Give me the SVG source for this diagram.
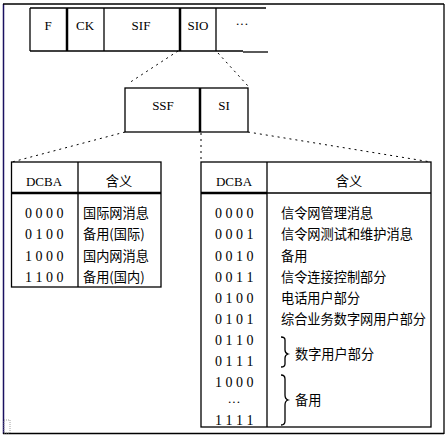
<svg xmlns="http://www.w3.org/2000/svg" width="447" height="437" viewBox="0 0 447 437">
<style>
.ln{stroke:#000;stroke-width:1.3;fill:none}
.thk{stroke:#000;stroke-width:2.5;fill:none}
.dot{stroke:#000;stroke-width:1;fill:none;stroke-dasharray:2 4}
.lat{font-family:"Liberation Serif",serif;font-size:13px;fill:#000}
.num{font-family:"Liberation Serif",serif;font-size:14px;fill:#000}
.cn{font-family:"Noto Sans CJK SC","Noto Sans",sans-serif;font-size:13.2px;fill:#000}
.c{text-anchor:middle}
</style>
<rect width="447" height="437" fill="#fff"/>
<g id="frame">
<line x1="3.5" y1="4" x2="3.5" y2="434" stroke="#1a1060" stroke-width="1.5"/>
<line x1="3" y1="4" x2="444" y2="4" class="ln"/>
<line x1="444" y1="4" x2="444" y2="434" class="ln"/>
<line x1="3" y1="433.5" x2="444" y2="433.5" class="ln"/>
<rect x="4" y="420" width="6" height="13" fill="none" stroke="#888" stroke-width="0.8" stroke-dasharray="1 1"/>
</g>
<g id="frame-top">
<line x1="30" y1="8" x2="266" y2="8" class="ln"/>
<line x1="30" y1="51" x2="243" y2="51" class="ln"/>
<line x1="243" y1="52" x2="268" y2="52" class="ln"/>
<line x1="30" y1="8" x2="30" y2="51" class="ln"/>
<line x1="67" y1="8" x2="67" y2="51" class="thk"/>
<line x1="104" y1="8" x2="104" y2="51" class="ln"/>
<line x1="180" y1="8" x2="180" y2="51" class="thk"/>
<line x1="216" y1="8" x2="216" y2="51" class="ln"/>
<text x="48" y="30" class="lat c">F</text>
<text x="85" y="30" class="lat c">CK</text>
<text x="141" y="30" class="lat c">SIF</text>
<text x="198" y="30" class="lat c">SIO</text>
<text x="242" y="28" class="lat c">···</text>
</g>
<g id="sio-box">
<rect x="125" y="88" width="123" height="44" class="ln"/>
<line x1="200" y1="88" x2="200" y2="132" class="thk"/>
<text x="163" y="110" class="lat c">SSF</text>
<text x="224" y="110" class="lat c">SI</text>
</g>
<g id="connectors">
<line x1="178" y1="51" x2="129" y2="83" class="dot"/>
<line x1="218" y1="53" x2="248" y2="86" class="dot"/>
<line x1="125" y1="132" x2="12" y2="162" class="dot"/>
<line x1="201" y1="133" x2="201" y2="162" class="dot"/>
<line x1="248" y1="132" x2="431" y2="162" class="dot"/>
</g>
<g id="table-ssf">
<rect x="11.5" y="162" width="149.5" height="125" class="ln"/>
<line x1="78" y1="162" x2="78" y2="287" class="ln"/>
<line x1="11.5" y1="193" x2="161" y2="193" class="thk"/>
<text x="44" y="186" class="lat c">DCBA</text>
<text x="119" y="186" class="cn c">含义</text>
<text x="25" y="218" class="num">0 0 0 0</text>
<text x="25" y="239" class="num">0 1 0 0</text>
<text x="25" y="261" class="num">1 0 0 0</text>
<text x="25" y="282" class="num">1 1 0 0</text>
<text x="83" y="218" class="cn">国际网消息</text>
<text x="83" y="239" class="cn">备用(国际)</text>
<text x="83" y="261" class="cn">国内网消息</text>
<text x="83" y="282" class="cn">备用(国内)</text>
</g>
<g id="table-si">
<rect x="201" y="162" width="230" height="265" class="ln"/>
<line x1="267" y1="162" x2="267" y2="427" class="ln"/>
<line x1="201" y1="193" x2="267" y2="193" class="thk"/>
<line x1="267" y1="193" x2="431" y2="193" class="ln"/>
<text x="234" y="186" class="lat c">DCBA</text>
<text x="349" y="186" class="cn c">含义</text>
<text x="215" y="218" class="num">0 0 0 0</text>
<text x="215" y="239" class="num">0 0 0 1</text>
<text x="215" y="261" class="num">0 0 1 0</text>
<text x="215" y="282" class="num">0 0 1 1</text>
<text x="215" y="303" class="num">0 1 0 0</text>
<text x="215" y="324" class="num">0 1 0 1</text>
<text x="215" y="345" class="num">0 1 1 0</text>
<text x="215" y="366" class="num">0 1 1 1</text>
<text x="215" y="387" class="num">1 0 0 0</text>
<text x="234" y="406" class="lat c">···</text>
<text x="215" y="425" class="num">1 1 1 1</text>
<text x="281" y="218" class="cn">信令网管理消息</text>
<text x="281" y="239" class="cn">信令网测试和维护消息</text>
<text x="281" y="261" class="cn">备用</text>
<text x="281" y="282" class="cn">信令连接控制部分</text>
<text x="281" y="303" class="cn">电话用户部分</text>
<text x="281" y="324" class="cn">综合业务数字网用户部分</text>
<path d="M281 337 Q285 337 285 340 L285 350 Q285 353 288 354 Q285 355 285 358 L285 364 Q285 367 281 367" class="ln" stroke-width="1"/>
<text x="295" y="359" class="cn">数字用户部分</text>
<path d="M281 375 Q285 375 285 379 L285 395 Q285 399 288 400 Q285 401 285 405 L285 421 Q285 425 281 425" class="ln" stroke-width="1"/>
<text x="295" y="405" class="cn">备用</text>
</g>
</svg>
